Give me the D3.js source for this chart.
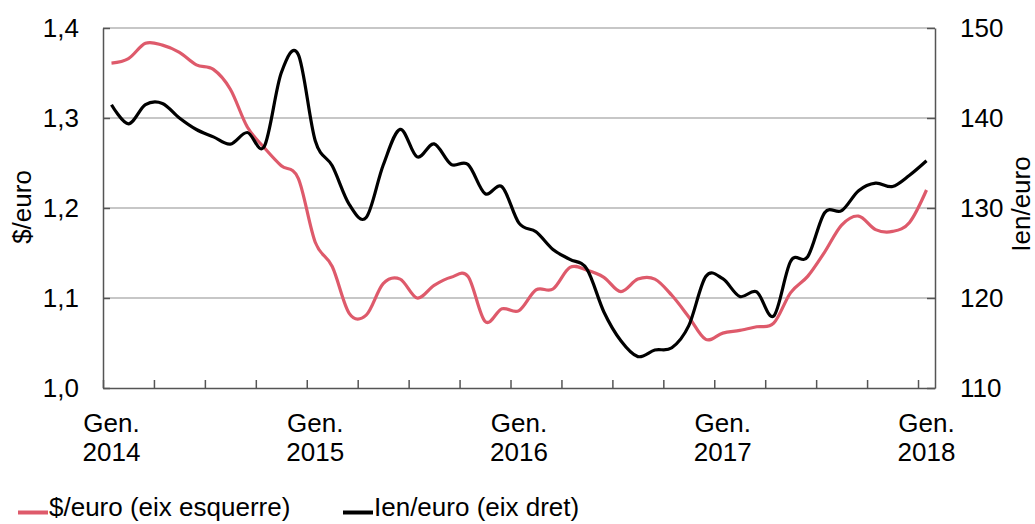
<!DOCTYPE html>
<html>
<head>
<meta charset="utf-8">
<script src="https://cdn.jsdelivr.net/npm/d3@7"></script>
<style>
    body { margin: 0; background: #fff; }
    svg { display: block; font-family: "Liberation Sans", Arial, sans-serif; }
</style>
</head>
<body>
<div id="chart"></div>
<script>
const width = 1035;
const height = 524;
const plot = { left: 103, right: 935, top: 28, bottom: 388 };

// monthly averages, Jan 2014 .. Jan 2018
const months = d3.timeMonth.range(new Date(2014, 0, 1), new Date(2018, 1, 1));
const usdPerEur = [
    1.361, 1.366, 1.383, 1.381, 1.373, 1.359, 1.354, 1.332, 1.290, 1.267, 1.247, 1.233,
    1.162, 1.135, 1.083, 1.081, 1.116, 1.121, 1.100, 1.114, 1.123, 1.124, 1.074, 1.088,
    1.086, 1.109, 1.110, 1.134, 1.131, 1.123, 1.107, 1.121, 1.121, 1.103, 1.079, 1.054,
    1.061, 1.064, 1.068, 1.072, 1.106, 1.124, 1.151, 1.181, 1.191, 1.176, 1.174, 1.184,
    1.220
];
const jpyPerEur = [
    141.47, 139.35, 141.48, 141.62, 140.0, 138.72, 137.9, 137.1, 138.39, 136.85, 145.03, 147.06,
    137.47, 134.69, 130.41, 128.94, 134.75, 138.74, 135.68, 137.12, 134.85, 134.84, 131.60, 132.36,
    128.32, 127.35, 125.39, 124.29, 123.21, 118.45, 115.25, 113.49, 114.22, 114.47, 116.93, 122.39,
    122.14, 120.17, 120.68, 118.0, 124.09, 124.58, 129.48, 129.70, 131.92, 132.76, 132.39, 133.64,
    135.25
];
const leftTicks = [1.0, 1.1, 1.2, 1.3, 1.4];
const rightTicks = [110, 120, 130, 140, 150];
const yearLabels = ["2014", "2015", "2016", "2017", "2018"];
const monthLabel = "Gen.";

const red = "#de5a6b";
const axisColor = "#555";

const svg = d3.select("#chart").append("svg")
    .attr("width", width)
    .attr("height", height);

// month index -> x, each month one slot
const x = d3.scaleLinear()
    .domain([0, months.length])
    .range([plot.left, plot.right]);

const yLeft = d3.scaleLinear().domain([1.0, 1.4]).range([plot.bottom, plot.top]);
const yRight = d3.scaleLinear().domain([110, 150]).range([plot.bottom, plot.top]);

// gridlines
svg.append("g")
    .selectAll("line")
    .data(leftTicks.slice(1))
    .join("line")
    .attr("x1", plot.left)
    .attr("x2", plot.right)
    .attr("y1", (d) => yLeft(d))
    .attr("y2", (d) => yLeft(d))
    .attr("stroke", "#b5b5b5")
    .attr("stroke-width", 1.5);

const comma = (d) => d3.format(".1f")(d).replace(".", ",");

const leftAxis = svg.append("g")
    .attr("transform", `translate(${plot.left},0)`)
    .call(d3.axisLeft(yLeft).tickValues(leftTicks).tickFormat(comma)
        .tickSize(-7).tickSizeOuter(0).tickPadding(24));

const rightAxis = svg.append("g")
    .attr("transform", `translate(${plot.right},0)`)
    .call(d3.axisRight(yRight).tickValues(rightTicks)
        .tickSize(-8).tickSizeOuter(0).tickPadding(25));

const bottomAxis = svg.append("g")
    .attr("transform", `translate(0,${plot.bottom})`)
    .call(d3.axisBottom(x).tickValues(d3.range(0, months.length, 3))
        .tickFormat("").tickSize(-8).tickSizeOuter(0));

[leftAxis, rightAxis, bottomAxis].forEach((g) => {
    g.attr("font-size", 26).attr("font-family", null);
    g.selectAll("path, line").attr("stroke", axisColor).attr("stroke-width", 1.5);
    g.selectAll("text").attr("fill", "#000");
});

// January labels under the axis
const janIdx = months.map((m, i) => i).filter((i) => months[i].getMonth() === 0);
const xLabels = svg.append("g")
    .attr("font-size", 26)
    .attr("text-anchor", "middle")
    .selectAll("text")
    .data(janIdx)
    .join("text")
    .attr("x", (i) => x(i + 0.5))
    .attr("y", 432);
xLabels.append("tspan").attr("x", (i) => x(i + 0.5)).text(monthLabel);
xLabels.append("tspan").attr("x", (i) => x(i + 0.5)).attr("dy", 28.5)
    .text((i, k) => yearLabels[k]);

// axis titles
svg.append("text")
    .attr("transform", "translate(31,207) rotate(-90)")
    .attr("text-anchor", "middle")
    .attr("font-size", 26)
    .text("$/euro");

svg.append("text")
    .attr("transform", "translate(1030,204) rotate(-90)")
    .attr("text-anchor", "middle")
    .attr("font-size", 26)
    .text("Ien/euro");

// series
const curve = d3.curveCardinal.tension(0);

const usdLine = d3.line()
    .x((d, i) => x(i + 0.5))
    .y((d) => yLeft(d))
    .curve(curve);

const jpyLine = d3.line()
    .x((d, i) => x(i + 0.5))
    .y((d) => yRight(d))
    .curve(curve);

svg.append("path")
    .datum(usdPerEur)
    .attr("d", usdLine)
    .attr("fill", "none")
    .attr("stroke", red)
    .attr("stroke-width", 3.2);

svg.append("path")
    .datum(jpyPerEur)
    .attr("d", jpyLine)
    .attr("fill", "none")
    .attr("stroke", "#000")
    .attr("stroke-width", 3.2);

// legend
const legend = [
    { label: "$/euro (eix esquerre)", color: red, x: 18 },
    { label: "Ien/euro (eix dret)", color: "#000", x: 343 }
];
const lg = svg.append("g").selectAll("g").data(legend).join("g");
lg.append("line")
    .attr("x1", (d) => d.x)
    .attr("x2", (d) => d.x + 30)
    .attr("y1", 512.5)
    .attr("y2", 512.5)
    .attr("stroke", (d) => d.color)
    .attr("stroke-width", 4);
lg.append("text")
    .attr("x", (d) => d.x + 31)
    .attr("y", 516)
    .attr("font-size", 26)
    .text((d) => d.label);
</script>
</body>
</html>
